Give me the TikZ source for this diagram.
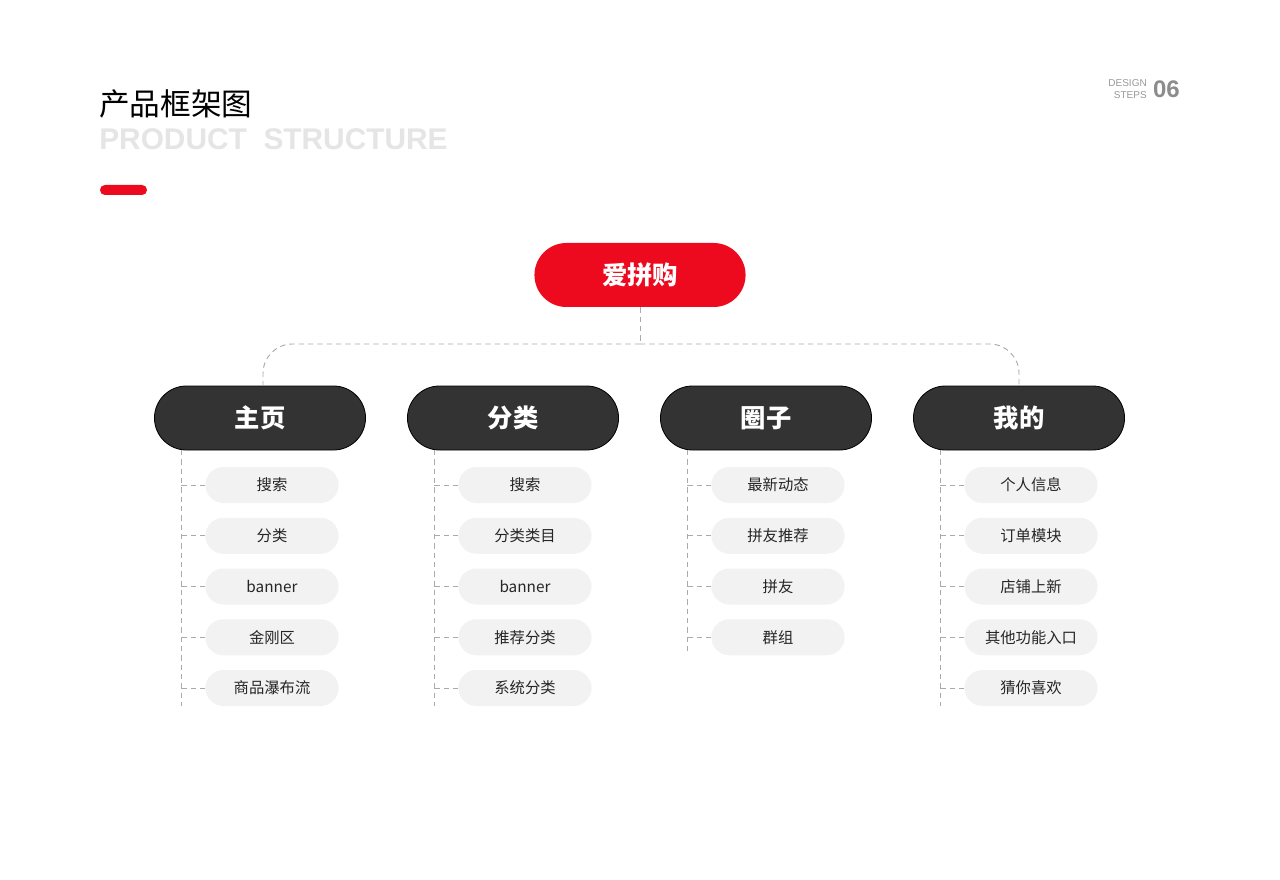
\documentclass[tikz,border=0pt]{standalone}
\usepackage{fontspec}
\setmainfont{Noto Sans CJK SC}
\newfontfamily\latinsans{Liberation Sans}
\usetikzlibrary{shapes.misc}
\definecolor{brandred}{HTML}{EE0A1E}
\definecolor{darkbox}{HTML}{333333}
\definecolor{pillgray}{HTML}{F2F2F2}
\definecolor{dashgray}{HTML}{AAAAAA}
\tikzset{
  rootbox/.style={rounded rectangle, fill=brandred, minimum width=165pt, minimum height=48pt, text=white, font=\fontsize{19}{22}\selectfont\bfseries},
  catbox/.style={rounded rectangle, fill=darkbox, draw=black, line width=0.6pt, minimum width=165pt, minimum height=48pt, text=white, font=\fontsize{19}{22}\selectfont\bfseries},
  pill/.style={rounded rectangle, fill=pillgray, minimum width=106.5pt, minimum height=27pt, text=black!85, font=\fontsize{11.5}{14}\selectfont},
  conn/.style={draw=dashgray, dash pattern=on 4pt off 3pt, line width=0.7pt},
}
\begin{document}
\begin{tikzpicture}[x=0.75pt,y=-0.75pt]
\useasboundingbox (0,0) rectangle (1280,880);
\fill[white] (0,0) rectangle (1280,880);
\node[anchor=west, inner sep=0, font=\fontsize{23}{28}\selectfont] (title) at (99,104) {产品框架图};
\node[anchor=west, inner sep=0, text=black!10, font=\latinsans\fontsize{22.4}{26}\selectfont\bfseries] (sub) at (99,139) {PRODUCT\ \ STRUCTURE};
\fill[brandred, rounded corners=3.7pt] (100,185) rectangle (147,195);
\node[anchor=east, inner sep=0, text=black!45, font=\latinsans\fontsize{18}{20}\selectfont\bfseries] (num) at (1180,89) {06};
\node[anchor=east, inner sep=0, align=right, text=black!40, font=\latinsans\fontsize{7.5}{8.5}\selectfont] (ds) at (1147,89) {DESIGN\\STEPS};

\node[rootbox] (root) at (640,275) {爱拼购};
\node[catbox] (c1) at (260,418) {主页};
\node[catbox] (c2) at (513,418) {分类};
\node[catbox] (c3) at (766,418) {圈子};
\node[catbox] (c4) at (1019,418) {我的};
\coordinate (j) at (640,344);
\draw[conn] (root.south) -- (j);
\draw[conn, rounded corners=22pt] (j) -| (263,385);
\draw[conn, rounded corners=22pt] (j) -| (1019,385);

\foreach \c/\cx/\items/\bot in {c1/260/{搜索,分类,banner,金刚区,商品瀑布流}/706, c2/513/{搜索,分类类目,banner,推荐分类,系统分类}/706, c3/766/{最新动态,拼友推荐,拼友,群组}/655, c4/1019/{个人信息,订单模块,店铺上新,其他功能入口,猜你喜欢}/706}{
  \coordinate (\c-b) at (\cx-79,\bot);
  \draw[conn] (\cx-79,450) -- (\c-b);
  \foreach \t [count=\i] in \items {
    \node[pill] (\c-\i) at (\cx+12,{485+50.75*(\i-1)}) {\t};
    \draw[conn] (\c-\i.west) -- (\cx-79,{485+50.75*(\i-1)});
  }
}
\end{tikzpicture}
\end{document}
